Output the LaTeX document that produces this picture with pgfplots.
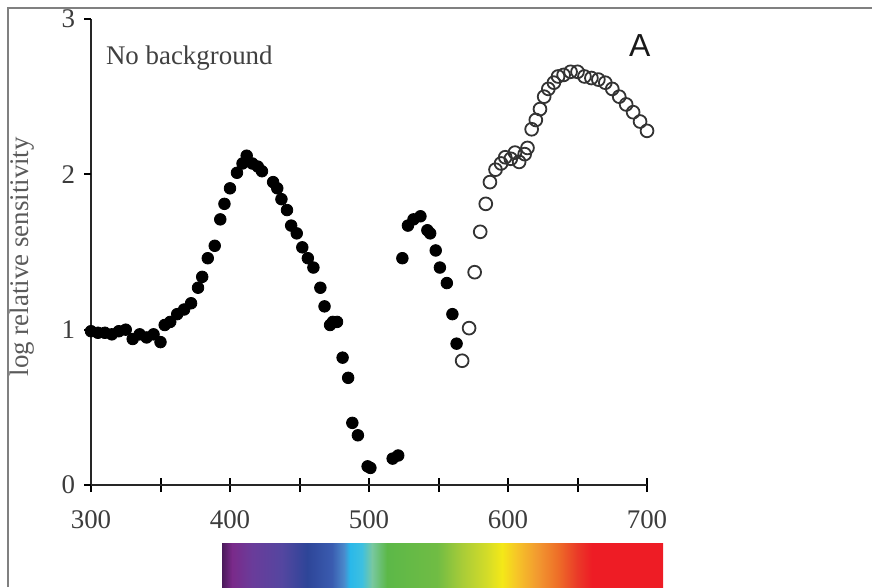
\documentclass[border=0pt]{standalone}
\usepackage{fontspec}
\setmainfont{Liberation Serif}
\newfontfamily\sansA{Liberation Sans}
\usepackage{pgfplots}
\pgfplotsset{compat=1.18}

\definecolor{tickgray}{HTML}{3C3C3C}
\definecolor{labgray}{HTML}{5A5A5A}
\definecolor{framegray}{HTML}{808080}
% spectrum stops
\definecolor{s0}{HTML}{4A1A5A}
\definecolor{s1}{HTML}{7A2A8A}
\definecolor{s2}{HTML}{6A3C9A}
\definecolor{s3}{HTML}{5446A0}
\definecolor{s4}{HTML}{2E4598}
\definecolor{s5}{HTML}{3A5CB0}
\definecolor{s6}{HTML}{4A8ACC}
\definecolor{s7}{HTML}{2AB8EA}
\definecolor{s8}{HTML}{3EC0E0}
\definecolor{s9}{HTML}{78C8A0}
\definecolor{s10}{HTML}{5CB848}
\definecolor{s11}{HTML}{70BC44}
\definecolor{s12}{HTML}{A8CC38}
\definecolor{s13}{HTML}{D4DC28}
\definecolor{s14}{HTML}{F4E818}
\definecolor{s15}{HTML}{F6C428}
\definecolor{s16}{HTML}{F29A30}
\definecolor{s17}{HTML}{EE7028}
\definecolor{s18}{HTML}{EA3A28}
\definecolor{s19}{HTML}{EE1C25}

\pgfdeclarehorizontalshading{spectrum}{100bp}{%
  color(0bp)=(s0); color(25bp)=(s0); color(26.13bp)=(s1); color(28.4bp)=(s2);
  color(31.8bp)=(s3); color(34.64bp)=(s4); color(37.47bp)=(s5); color(38.83bp)=(s6);
  color(39.51bp)=(s7); color(40.87bp)=(s8); color(42.01bp)=(s9); color(43.71bp)=(s10);
  color(49.38bp)=(s11); color(52.21bp)=(s12); color(55.05bp)=(s13); color(56.75bp)=(s14);
  color(58.45bp)=(s15); color(60.71bp)=(s16); color(62.98bp)=(s17); color(65.25bp)=(s18);
  color(66.95bp)=(s19); color(75bp)=(s19); color(100bp)=(s19)}

% filled dots
\pgfplotstableread{
nm val
300 0.99
305 0.98
310 0.98
315 0.97
320 0.99
325 1.00
330 0.94
335 0.97
340 0.95
345 0.97
350 0.92
353 1.03
357 1.05
362 1.10
367 1.13
372 1.17
377 1.27
380 1.34
384 1.46
389 1.54
393 1.71
396 1.81
400 1.91
405 2.01
409 2.07
412 2.12
416 2.07
420 2.05
423 2.02
431 1.95
434 1.91
437 1.84
441 1.77
444 1.67
448 1.62
452 1.53
456 1.46
460 1.40
465 1.27
468 1.15
472 1.03
474 1.05
477 1.05
481 0.82
485 0.69
488 0.40
492 0.32
499 0.12
501 0.11
517 0.17
521 0.19
524 1.46
528 1.67
532 1.71
537 1.73
542 1.64
544 1.62
548 1.51
551 1.40
556 1.30
560 1.10
563 0.91
}\filled

% open circles
\pgfplotstableread{
nm val
567 0.80
572 1.01
576 1.37
580 1.63
584 1.81
587 1.95
591 2.03
595 2.07
598 2.11
602 2.10
605 2.14
608 2.08
612 2.13
614 2.17
617 2.29
620 2.35
623 2.42
626 2.50
629 2.55
633 2.59
636 2.63
640 2.64
645 2.66
650 2.66
655 2.63
660 2.62
665 2.61
670 2.59
675 2.55
680 2.50
685 2.45
690 2.40
695 2.34
700 2.28
}\opencirc

\begin{document}
\begin{tikzpicture}[x=1bp,y=1bp]
\useasboundingbox (0,0) rectangle (436,293.5);
\draw[framegray, line width=0.8bp] (4,0) -- (4,289.5) -- (436,289.5);
\shade[shading=spectrum] (111,0) rectangle (331.5,22);

\begin{axis}[
    at={(45.5bp,51bp)}, anchor=south west,
    scale only axis, width=278bp, height=233bp,
    xmin=300, xmax=700, ymin=0, ymax=3,
    axis lines=left,
    axis line style={-, line width=1bp, black!85},
    xtick={300,400,...,700},
    minor xtick={350,450,550,650},
    ytick={0,1,2,3},
    tick align=center,
    major tick length=7bp, minor tick length=7bp,
    xtick style={black, line width=1bp},
    minor tick style={black, line width=1bp},
    ytick style={draw=none},
    /pgf/number format/assume math mode=true,
    tick label style={font=\fontsize{13.5}{14}\selectfont, text=tickgray},
    xticklabel style={yshift=-6bp},
    yticklabel style={xshift=-1bp},
    ylabel={log relative sensitivity},
    ylabel style={at={(axis description cs:-0.124,0.49)}, anchor=center,
        font=\fontsize{13.5}{14}\selectfont, text=labgray},
    clip=false,
]
\addplot[only marks, mark=*, mark size=2.9bp, black] table[x=nm, y=val] {\filled};
\addplot[only marks, mark=o, mark size=3.2bp, mark options={line width=0.9bp, draw=black!80}] table[x=nm, y=val] {\opencirc};

\foreach \v in {0,1,2,3} {
  \edef\tmp{\noexpand\draw[black, line width=1bp] (axis cs:300,\v) -- ++(-3.5bp,0pt);}
  \tmp
}
\node[anchor=west, font=\fontsize{13.5}{14}\selectfont, text=black!75] at (axis description cs:0.0144,0.916) {No background};
\node[font=\sansA\fontsize{16}{18}\selectfont, text=black!90] at (axis description cs:0.987,0.944) {A};
\end{axis}
\end{tikzpicture}
\end{document}
